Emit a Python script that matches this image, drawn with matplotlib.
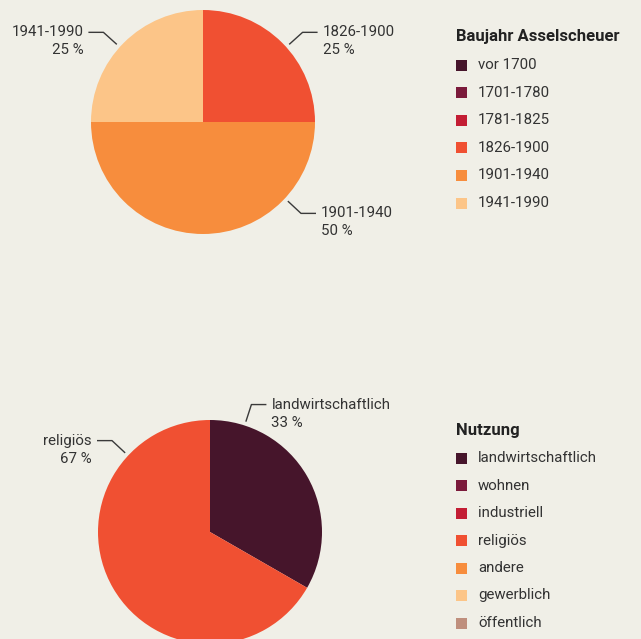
import numpy as np
import matplotlib
matplotlib.use("Agg")
import matplotlib.pyplot as plt
from matplotlib.patches import Rectangle

plt.rcParams['font.family'] = ['Roboto', 'DejaVu Sans']

# Baujahr (share in %)
baujahr_labels = ["vor 1700", "1701-1780", "1781-1825", "1826-1900", "1901-1940", "1941-1990"]
baujahr_values = [0, 0, 0, 25, 50, 25]

# Nutzung (share in %)
nutzung_labels = ["landwirtschaftlich", "wohnen", "industriell", "religiös", "andere",
                  "gewerblich", "öffentlich"]
nutzung_values = [33.3, 0, 0, 66.7, 0, 0, 0]

palette = ["#46152b", "#7b1a3b", "#c31d34", "#f05032", "#f78d3d", "#fcc588", "#bf8f7d"]

BG = "#f0efe7"
TXT = "#333333"
W, H = 641, 639
FS = 10.8

fig = plt.figure(figsize=(W / 100, H / 100), dpi=100, facecolor=BG)
ax = fig.add_axes([0, 0, 1, 1])
ax.set_facecolor(BG)

R = 112


def draw_pie(labels, values, cx, cy, label_angles):
    vals = [v for v in values if v > 0]
    cols = [palette[i] for i, v in enumerate(values) if v > 0]
    names = [labels[i] for i, v in enumerate(values) if v > 0]
    ax.pie(vals, colors=cols, startangle=90, counterclock=False, radius=R,
           center=(cx, H - cy), frame=True, wedgeprops=dict(linewidth=0))
    for name, v, ang in zip(names, vals, label_angles):
        a = np.deg2rad(ang)
        x0, y0 = cx + (R + 4) * np.cos(a), (H - cy) + (R + 4) * np.sin(a)
        x1, y1 = cx + (R + 22) * np.cos(a), (H - cy) + (R + 22) * np.sin(a)
        side = 1 if np.cos(a) > 0 else -1
        x2 = x1 + side * 15
        ax.plot([x0, x1, x2], [y0, y1, y1], color="#3a3a3a", lw=1, solid_capstyle="butt")
        ha = "left" if side > 0 else "right"
        tx = x2 + side * 5
        ax.text(tx, y1, name, ha=ha, va="center", fontsize=FS, color=TXT)
        ax.text(tx, y1 - 18, f"{v:.0f} %", ha=ha, va="center", fontsize=FS, color=TXT)


def draw_legend(title, labels, x, y_title, y0, step):
    ax.text(x, H - y_title, title, ha="left", va="center", fontsize=12,
            fontweight="bold", color="#222222")
    for i, lab in enumerate(labels):
        yc = H - (y0 + i * step)
        ax.add_patch(Rectangle((x, yc - 5.5), 11, 11, color=palette[i], lw=0))
        ax.text(x + 22, yc, lab, ha="left", va="center", fontsize=FS, color=TXT)


draw_pie(baujahr_labels, baujahr_values, 203, 122, [42, -43, 138])
draw_pie(nutzung_labels, nutzung_values, 210, 532, [72, 137])

draw_legend("Baujahr Asselscheuer", baujahr_labels, 456, 37, 65, 27.6)
draw_legend("Nutzung", nutzung_labels, 456, 430, 458, 27.5)

ax.set_xlim(0, W)
ax.set_ylim(0, H)
ax.set_aspect("auto")
ax.axis("off")

fig.savefig("out.png", dpi=100, facecolor=BG)
